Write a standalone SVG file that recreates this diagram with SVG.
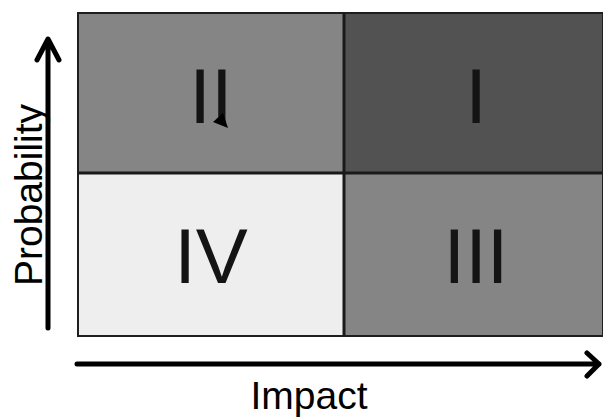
<svg xmlns="http://www.w3.org/2000/svg" width="603" height="419" viewBox="0 0 603 419">
<style>
.cell{stroke:#1e1e1e;stroke-width:2}
.num{font-family:"Liberation Sans",Arial,sans-serif;font-size:78px;fill:#141414;text-anchor:middle}
.lbl{font-family:"Liberation Sans",Arial,sans-serif;font-size:39px;fill:#000;text-anchor:middle}
.axis{stroke:#000;stroke-width:5;fill:none;stroke-linecap:round;stroke-linejoin:round}
</style>
<rect width="603" height="419" fill="#fff"/>
<g id="q2"><rect class="cell" x="78" y="13" width="266" height="160" fill="#858585"/><text class="num" x="211" y="123">II</text></g>
<g id="q1"><rect class="cell" x="344" y="13" width="259" height="160" fill="#525252"/><text class="num" x="476" y="123">I</text></g>
<g id="q4"><rect class="cell" x="78" y="173" width="266" height="163" fill="#eeeeee"/><text class="num" x="211" y="283">IV</text></g>
<g id="q3"><rect class="cell" x="344" y="173" width="259" height="163" fill="#858585"/><text class="num" x="476" y="283">III</text></g>
<g id="dividers"><line x1="344" y1="13" x2="344" y2="336" stroke="#1a1a1a" stroke-width="3"/><line x1="78" y1="173" x2="603" y2="173" stroke="#1a1a1a" stroke-width="3"/></g>
<g id="connectors">
<path class="axis" d="M48 328V40M37 60L48 39L59 60"/>
<path class="axis" d="M77 364H599M587 353L599 364L587 376"/>
<polygon points="213,122 223,113 228,128" fill="#000"/>
</g>
<g id="labels">
<text class="lbl" x="309" y="409">Impact</text>
<text class="lbl" transform="translate(42,195) rotate(-90)">Probability</text>
</g>
</svg>
